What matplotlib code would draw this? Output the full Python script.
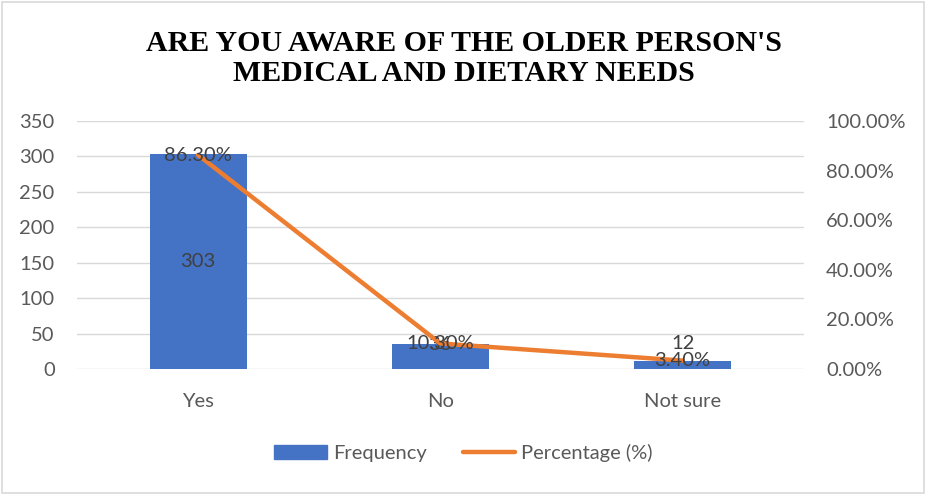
import matplotlib
matplotlib.use("Agg")

import matplotlib.pyplot as plt
from matplotlib.patches import Rectangle
from matplotlib.lines import Line2D
from matplotlib.ticker import FuncFormatter, MultipleLocator

# data
categories = ["Yes", "No", "Not sure"]
frequency = [303, 36, 12]
percentage = [0.863, 0.103, 0.034]
pct_labels = ["86.30%", "10.30%", "3.40%"]

TITLE = "ARE YOU AWARE OF THE OLDER PERSON'S\nMEDICAL AND DIETARY NEEDS"

BAR_COLOR = "#4472C4"
LINE_COLOR = "#ED7D31"
GRID_COLOR = "#D9D9D9"
TEXT_COLOR = "#595959"
LABEL_COLOR = "#404040"
FS = 14.5

plt.rcParams["font.family"] = ["Lato", "DejaVu Sans"]

fig = plt.figure(figsize=(9.27, 4.94), dpi=100)
ax = fig.add_axes([0.083, 0.253, 0.784, 0.502])
ax2 = ax.twinx()

x = list(range(len(categories)))
bars = ax.bar(x, frequency, width=0.4, color=BAR_COLOR, zorder=2)
ax2.plot(x, percentage, color=LINE_COLOR, linewidth=3.2,
         solid_capstyle="round", zorder=3)

ax.set_xlim(-0.5, len(categories) - 0.5)
ax.set_ylim(0, 350)
ax.yaxis.set_major_locator(MultipleLocator(50))
ax2.set_ylim(0, 1.0)
ax2.yaxis.set_major_locator(MultipleLocator(0.2))
ax2.yaxis.set_major_formatter(FuncFormatter(lambda v, p: f"{v * 100:.2f}%"))

ax.set_xticks(x)
ax.set_xticklabels(categories)
ax.grid(axis="y", color=GRID_COLOR, linewidth=1.0, zorder=0)
ax.set_axisbelow(True)

for a in (ax, ax2):
    for s in a.spines.values():
        s.set_visible(False)
    a.tick_params(length=0, labelsize=FS, colors=TEXT_COLOR)
ax.tick_params(axis="y", pad=16)
ax2.tick_params(axis="y", pad=16)
ax.tick_params(axis="x", pad=17)

# bar value labels (placement as in the original: middle, at top, above)
bar_offsets = [None, -1, 17]
for i, (b, v) in enumerate(zip(bars, frequency)):
    cx = b.get_x() + b.get_width() / 2
    if bar_offsets[i] is None:
        ax.text(cx, v / 2, str(v), ha="center", va="center",
                fontsize=FS, color=LABEL_COLOR, zorder=5)
    else:
        ax.annotate(str(v), (cx, v), xytext=(0, bar_offsets[i]),
                    textcoords="offset pixels", ha="center", va="center",
                    fontsize=FS, color=LABEL_COLOR, zorder=5)

for xi, p, lab in zip(x, percentage, pct_labels):
    ax2.text(xi, p, lab, ha="center", va="center",
             fontsize=FS, color=LABEL_COLOR, zorder=5)

fig.suptitle(TITLE, y=0.94, fontsize=21.5, fontweight="bold",
             family="Liberation Serif", linespacing=1.15)

handles = [Rectangle((0, 0), 1, 1, color=BAR_COLOR),
           Line2D([0], [0], color=LINE_COLOR, linewidth=3.2,
                  solid_capstyle="round")]
fig.legend(handles, ["Frequency", "Percentage (%)"], loc="center",
           bbox_to_anchor=(0.5, 0.083), ncol=2, frameon=False,
           fontsize=FS, labelcolor=TEXT_COLOR, handlelength=2.6,
           handletextpad=0.3, columnspacing=1.8)

# light border around the chart area
fig.patches.append(Rectangle((0.002, 0.003), 0.995, 0.993,
                             transform=fig.transFigure, fill=False,
                             edgecolor=GRID_COLOR, linewidth=1.2))

fig.savefig("out.png", dpi=100)
